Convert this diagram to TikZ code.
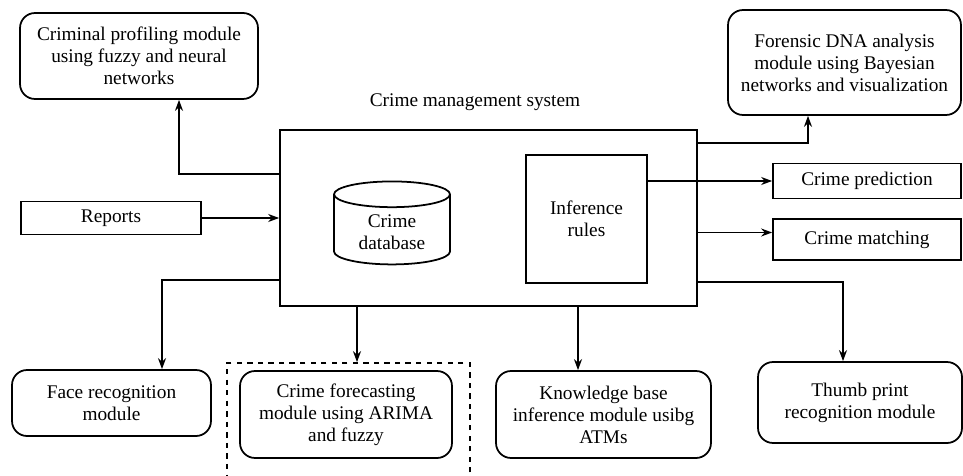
\documentclass[tikz,border=0pt]{standalone}
\usepackage{fontspec}
\setmainfont{Liberation Serif}
\usepackage{tikz}
\usetikzlibrary{arrows.meta,shapes.geometric,calc}

\begin{document}
\begin{tikzpicture}[x=0.02cm,y=-0.02cm,
    font=\rmfamily\fontsize{11}{12.5}\selectfont,
    >={Stealth[black,length=2.2mm,width=1.6mm]}]
                \useasboundingbox (0,0) rectangle (963,476);
                \begin{scope}[every node/.style={draw,line width=1pt,align=center,inner sep=2pt}]
                    \node[rounded corners=0.3cm,minimum width=4.76cm,minimum height=1.72cm] (prof) at (139,56) {Criminal profiling module\\using fuzzy and neural\\networks};
                    \node[rounded corners=0.3cm,minimum width=4.66cm,minimum height=2.1cm] (dna) at (844.5,62.5) {Forensic DNA analysis\\module using Bayesian\\networks and visualization};
                    \node[minimum width=8.34cm,minimum height=3.52cm] (cms) at (488.5,218) {};
                    \node[cylinder,shape border rotate=90,aspect=0.35,minimum width=2.32cm,minimum height=1.66cm] (db) at (392,232) {Crime\\database};
                    \node[minimum width=2.42cm,minimum height=2.56cm] (rules) at (586.5,219) {Inference\\rules};
                    \node[minimum width=3.6cm,minimum height=0.66cm] (reports) at (111,218) {Reports};
                    \node[minimum width=3.76cm,minimum height=0.7cm] (pred) at (867,181) {Crime prediction};
                    \node[minimum width=3.76cm,minimum height=0.82cm] (match) at (867,239.5) {Crime matching};
                    \node[rounded corners=0.3cm,minimum width=3.98cm,minimum height=1.32cm] (face) at (111.5,403) {Face recognition\\module};
                    \node[dashed,minimum width=4.86cm,minimum height=2.6cm] (frame) at (348.5,428) {};
                    \node[rounded corners=0.3cm,minimum width=4.24cm,minimum height=1.74cm] (fore) at (346,414.5) {Crime forecasting\\module using ARIMA\\and fuzzy};
                    \node[rounded corners=0.3cm,minimum width=4.3cm,minimum height=1.74cm] (kb) at (603.5,414.5) {Knowledge base\\inference module usibg\\ATMs};
                    \node[rounded corners=0.3cm,minimum width=4.08cm,minimum height=1.62cm] (thumb) at (860,402.5) {Thumb print\\recognition module};
                \end{scope}
                \node (title) at (475,102) {Crime management system};
                % connector ends
                \coordinate (pc) at ($(prof.south)+(40,0)$);
                \coordinate (dc) at ($(dna.south)+(-36.5,0)$);
                \coordinate (fc) at ($(face.north)+(50.5,0)$);
                \coordinate (ff) at ($(frame.north)+(8.5,0)$);
                \coordinate (kc) at ($(kb.north)+(-25.5,0)$);
                \coordinate (tc) at ($(thumb.north)+(-17,0)$);
                \begin{scope}[line width=1pt]
                    \draw[->] ($(cms.west)+(0,-44)$) -| (pc);
                    \draw[->] (reports.east) -- (reports.east -| cms.west);
                    \draw[->] ($(cms.west)+(0,62)$) -| (fc);
                    \draw[->] (ff |- cms.south) -- (ff);
                    \draw[->] (kc |- cms.south) -- (kc);
                    \draw[->] ($(cms.east)+(0,64)$) -| (tc);
                    \draw[->] ($(cms.east)+(0,-75)$) -| (dc);
                    \draw[->] (pred.west -| rules.east) -- (pred.west);
                    \draw[->] ($(match.west -| cms.east)+(0,-7)$) -- ($(match.west)+(0,-7)$);
                \end{scope}
            \end{tikzpicture}
\end{document}
